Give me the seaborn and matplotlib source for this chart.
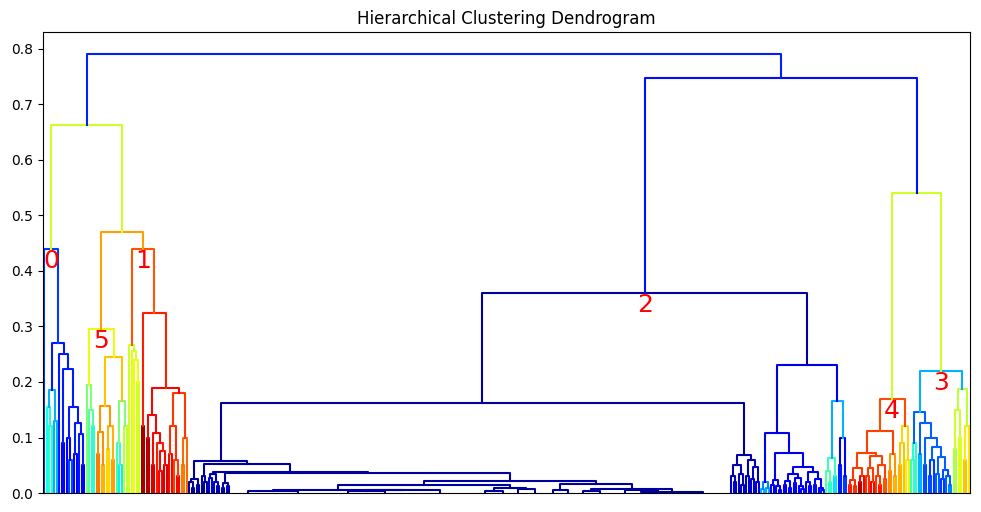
import matplotlib
matplotlib.use('Agg')
import matplotlib.pyplot as plt
import seaborn as sns
import pandas as pd

# each merge is (height, colour value on the jet scale, left, right);
# a plain int is a leaf group of that many leaves
cluster_0 = (0.44, 0.18,
             1,
             (0.27, 0.15,
              (0.185, 0.30,
               (0.155, 0.38, 1, (0.12, 0.40, 1, 1)),
               (0.13, 0.30, 1, 1)),
              (0.25, 0.15,
               1,
               (0.223, 0.15,
                (0.09, 0.13, 1, 1),
                (0.155, 0.15,
                 (0.10, 0.13, 1, (0.06, 0.20, 1, 1)),
                 (0.126, 0.15,
                  (0.07, 0.13, 1, 1),
                  (0.106, 0.15, 1, (0.05, 0.12, 1, 1))))))))

cluster_5 = (0.295, 0.63,
             (0.195, 0.50, 1, (0.15, 0.45, 1, (0.12, 0.40, 1, 1))),
             (0.245, 0.70,
              (0.157, 0.75,
               (0.11, 0.76, (0.07, 0.78, 1, 1), (0.05, 0.72, 1, 1)),
               (0.12, 0.72, (0.08, 0.68, 1, 1), (0.06, 0.74, 1, 1))),
              (0.165, 0.50,
               (0.09, 0.42, 1, (0.05, 0.36, 1, 1)),
               (0.12, 0.58, 1, 1))))

cluster_1 = (0.44, 0.82,
             (0.266, 0.60, 1, (0.255, 0.62, 1, (0.24, 0.64, 1, (0.20, 0.60, 1, 1)))),
             (0.325, 0.88,
              (0.12, 0.97, 1, 1),
              (0.19, 0.90,
               (0.14, 0.90,
                (0.10, 0.95, 1, 1),
                (0.108, 0.90, (0.05, 0.92, 1, 1),
                 (0.09, 0.88, 1,
                  (0.075, 0.90, (0.04, 0.90, 1, 1), (0.05, 0.92, 1, 1))))),
               (0.18, 0.85,
                (0.12, 0.86, (0.07, 0.90, 1, 1), (0.06, 0.84, 1, (0.03, 0.90, 1, 1))),
                (0.10, 0.80, (0.05, 0.78, 1, 1), 1)))))

cluster_2 = (0.36, 0.03,
             (0.162, 0.03,
              (0.058, 0.03,
               (0.025, 0.03, (0.02, 0.03, 1, (0.01, 0.03, 1, 1)), (0.015, 0.03, 1, 1)),
               (0.052, 0.03,
                (0.03, 0.03, 1, (0.02, 0.03, 1, 1)),
                (0.038, 0.03,
                 (0.035, 0.06, (0.028, 0.07, 1, 1), (0.02, 0.06, 1, (0.012, 0.05, 1, 1))),
                 (0.036, 0.03,
                  (0.018, 0.04, (0.01, 0.04, 1, 1), (0.012, 0.05, 1, 1)),
                  (0.022, 0.03,
                   (0.014, 0.03,
                    (0.006, 0.03, (0.004, 0.03, 14, 26), (0.005, 0.03, (0.003, 0.03, 14, 16), 28)),
                    (0.009, 0.03, (0.003, 0.03, 8, 6), (0.007, 0.03, 6, 8))),
                   (0.016, 0.03,
                    (0.005, 0.03, 6, 6),
                    (0.008, 0.03, (0.004, 0.03, 6, 8),
                     (0.002, 0.03, (0.006, 0.03, 12, 14), 22)))))))),
              (0.068, 0.04,
               (0.05, 0.05, (0.03, 0.06, 1, (0.02, 0.08, 1, 1)), (0.035, 0.05, 1, (0.015, 0.07, 1, 1))),
               (0.06, 0.05, (0.03, 0.06, 1, 1), (0.047, 0.06, (0.025, 0.07, 1, 1), (0.02, 0.08, 1, 1))))),
             (0.23, 0.09,
              (0.108, 0.10,
               (0.02, 0.25, (0.008, 0.30, 1, 1), (0.01, 0.30, 1, 1)),
               (0.072, 0.10,
                (0.023, 0.10, (0.015, 0.12, 1, 1), (0.012, 0.11, 1, (0.006, 0.14, 1, 1))),
                (0.047, 0.10,
                 (0.034, 0.10,
                  (0.022, 0.11, (0.015, 0.12, 1, 1), (0.01, 0.13, 1, 1)),
                  (0.027, 0.10, (0.018, 0.12, 1, 1), (0.012, 0.13, 1, (0.008, 0.14, 1, 1)))),
                 (0.038, 0.10,
                  (0.02, 0.12, 1, (0.012, 0.13, 1, 1)),
                  (0.025, 0.11, (0.015, 0.14, 1, 1), (0.01, 0.12, 1, (0.005, 0.15, 1, 1))))))),
              (0.165, 0.30,
               (0.063, 0.42, (0.04, 0.45, 1, (0.02, 0.40, 1, 1)), (0.03, 0.35, 1, 1)),
               (0.10, 0.12, (0.05, 0.15, 1, 1), (0.03, 0.18, 1, 1)))))

cluster_4 = (0.17, 0.83,
             (0.112, 0.84,
              (0.072, 0.84,
               (0.045, 0.85,
                (0.023, 0.87, (0.015, 0.88, 1, 1), (0.012, 0.86, 1, 1)),
                (0.03, 0.90, (0.02, 0.95, 1, 1), 1)),
               (0.067, 0.84,
                (0.045, 0.85, (0.03, 0.86, 1, 1), (0.02, 0.90, 1, 1)),
                (0.05, 0.84, (0.03, 0.85, 1, (0.015, 0.88, 1, 1)), (0.025, 0.82, 1, 1)))),
              (0.07, 0.75, (0.04, 0.76, 1, 1), (0.03, 0.72, 1, 1))),
             (0.12, 0.68,
              (0.09, 0.70, (0.05, 0.72, 1, 1), 1),
              (0.06, 0.66, 1, 1)))

cluster_3 = (0.22, 0.30,
             (0.146, 0.22,
              (0.09, 0.40, (0.06, 0.42, 1, 1), 1),
              (0.126, 0.22,
               (0.07, 0.30, 1, 1),
               (0.10, 0.22,
                (0.05, 0.20, 1, 1),
                (0.083, 0.22,
                 (0.06, 0.18, (0.03, 0.20, 1, 1), 1),
                 (0.065, 0.22,
                  (0.035, 0.22, 1, 1),
                  (0.042, 0.20, (0.025, 0.18, 1, 1),
                   (0.03, 0.22, 1, (0.015, 0.25, 1, 1)))))))),
             (0.187, 0.58,
              (0.15, 0.60, (0.08, 0.56, 1, 1), (0.10, 0.62, 1, 1)),
              (0.12, 0.66, (0.06, 0.70, 1, 1), 1)))

# merges above the six clusters: root, left, left-right, right, right-right
top_heights = [0.79, 0.663, 0.47, 0.748, 0.54]
top_colours = [0.16, 0.60, 0.74, 0.14, 0.60]

clusters = {'0': cluster_0, '1': cluster_1, '2': cluster_2,
            '3': cluster_3, '4': cluster_4, '5': cluster_5}

tree = (top_heights[0], top_colours[0],
        (top_heights[1], top_colours[1], cluster_0,
         (top_heights[2], top_colours[2], cluster_5, cluster_1)),
        (top_heights[3], top_colours[3], cluster_2,
         (top_heights[4], top_colours[4], cluster_4, cluster_3)))

cmap = plt.get_cmap('jet')
rows = []
palette = {}
node_pos = {}


def place(node, start):
    # leaves sit at 10*i + 5 like scipy's dendrogram
    if isinstance(node, int):
        return start + node, 10 * start + 5 * node, 0.0
    h, c, left, right = node
    start, xl, yl = place(left, start)
    start, xr, yr = place(right, start)
    k = len(palette)
    palette[k] = cmap(c)
    for x, y in [(xl, yl), (xl, h), (xr, h), (xr, yr)]:
        rows.append({'link': k, 'x': x, 'y': y})
    node_pos[id(node)] = ((xl + xr) / 2, h)
    return start, (xl + xr) / 2, h


n_leaves, _, _ = place(tree, 0)
df = pd.DataFrame(rows)

fig = plt.figure(figsize=(9.81, 5.12), dpi=100)
ax = fig.add_axes([0.0438, 0.037, 0.945, 0.9005])
sns.lineplot(data=df, x='x', y='y', units='link', hue='link', palette=palette,
             estimator=None, sort=False, legend=False, linewidth=1.5, ax=ax)

for name, node in clusters.items():
    x, h = node_pos[id(node)]
    ax.text(x, h, name, color='red', fontsize=18, ha='center', va='top')

ax.set_xlim(0, 10 * n_leaves)
ax.set_ylim(0, 0.83)
ax.set_xticks([])
ax.set_xlabel('')
ax.set_ylabel('')
ax.set_title('Hierarchical Clustering Dendrogram')
fig.savefig('out.png', dpi=100)
